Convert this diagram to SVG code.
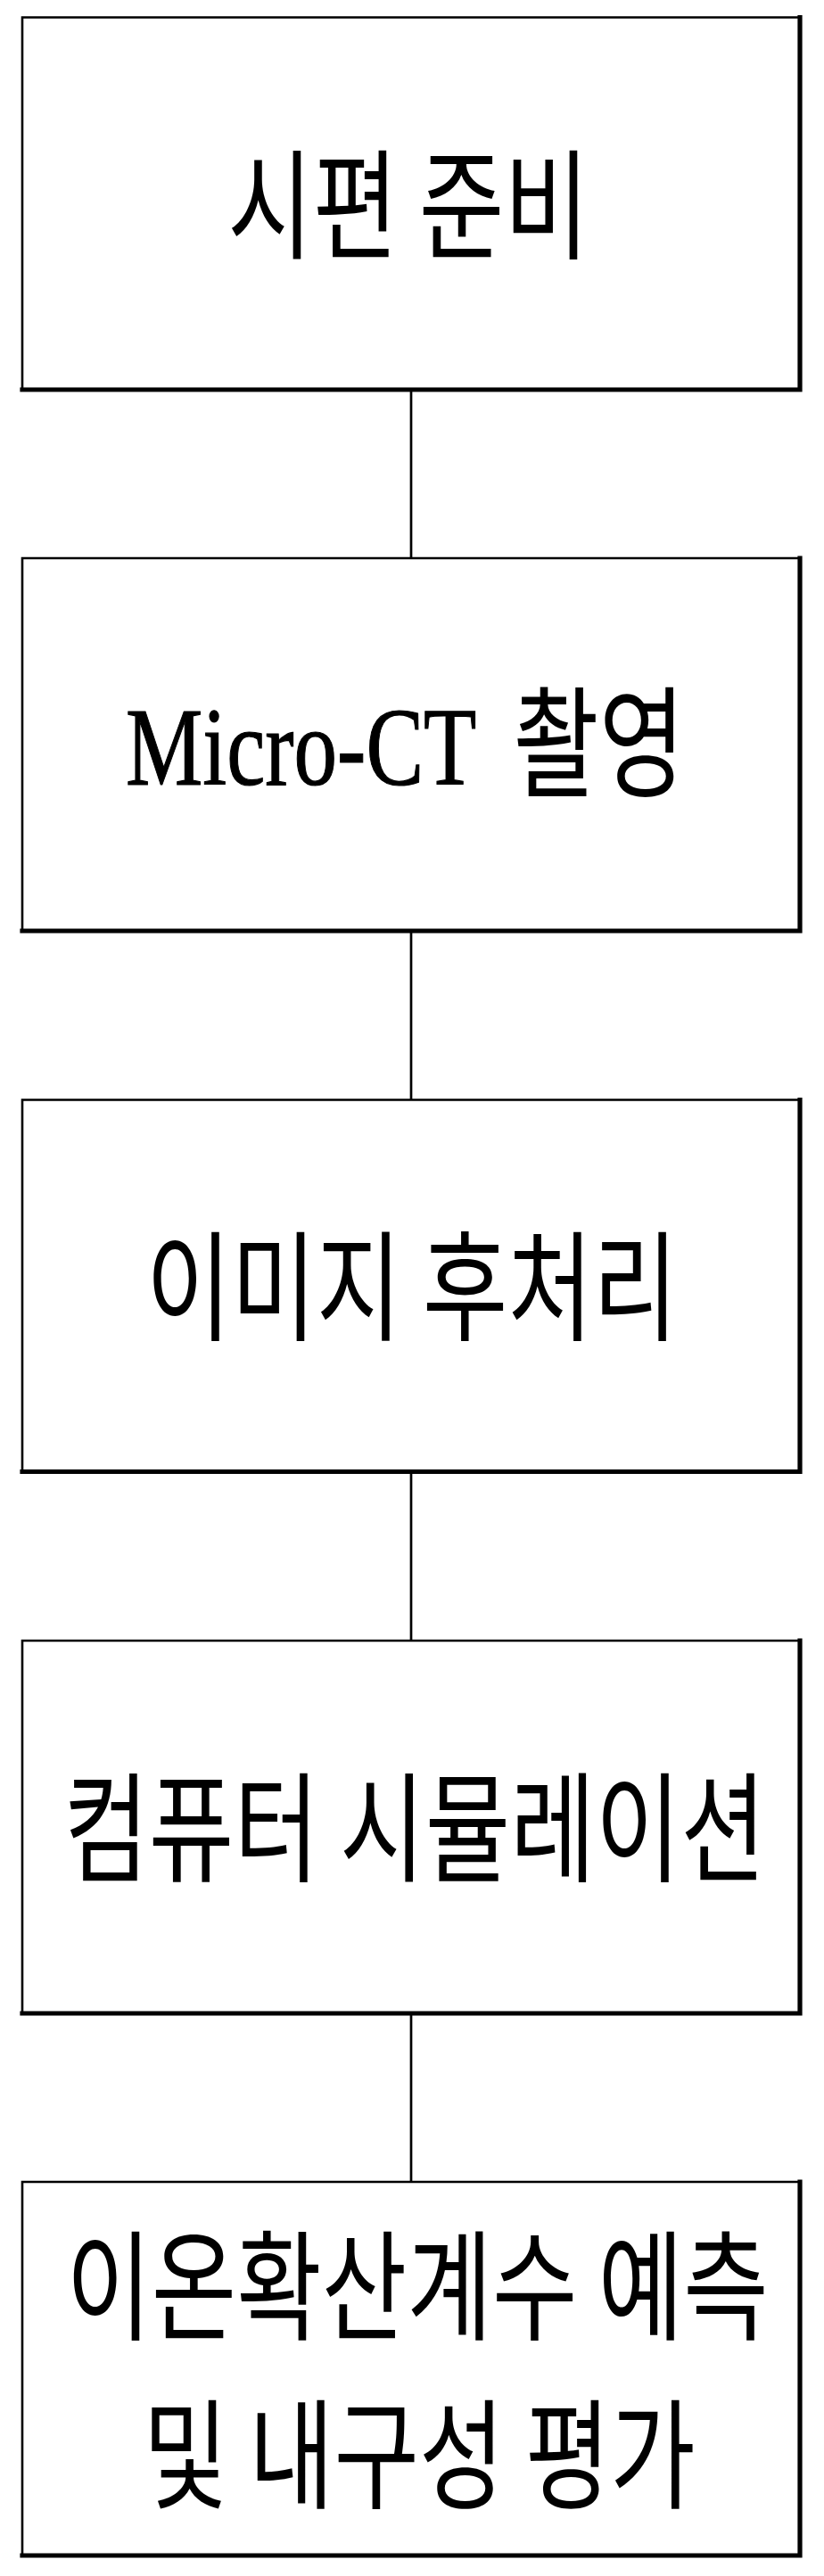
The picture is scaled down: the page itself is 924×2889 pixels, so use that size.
<svg xmlns="http://www.w3.org/2000/svg" width="924" height="2889" viewBox="0 0 924 2889">
<style>
.thin{fill:none;stroke:#000;stroke-width:2.6;stroke-linecap:square}
.thick{fill:none;stroke:#000;stroke-width:5.2;stroke-linecap:square}
.conn{fill:none;stroke:#000;stroke-width:2.7}
.ko{font-family:"Noto Sans CJK KR","Noto Sans CJK SC",sans-serif;font-size:134px;fill:#000;text-anchor:middle}
.lat{font-family:"Liberation Serif","Noto Sans CJK KR",serif;font-size:126px;fill:#000;stroke:#000;stroke-width:1.2}
</style>
<rect width="924" height="2889" fill="#fff"/>
<g id="connectors">
<line class="conn" x1="461" y1="437" x2="461" y2="626"/>
<line class="conn" x1="461" y1="1044" x2="461" y2="1233.5"/>
<line class="conn" x1="461" y1="1650.5" x2="461" y2="1840"/>
<line class="conn" x1="461" y1="2258" x2="461" y2="2447"/>
</g>
<g id="node1">
<path class="thin" d="M25,437 V19.5 H897"/>
<path class="thick" d="M897,19.5 V437 H25"/>
<text class="ko" transform="translate(458,280) scale(0.775,1)">시편 준비</text>
</g>
<g id="node2">
<path class="thin" d="M25,1044 V626 H897"/>
<path class="thick" d="M897,626 V1044 H25"/>
<text class="lat" transform="translate(141,880) scale(0.77,1)">Micro-CT <tspan dx="24" dy="4" font-family="Noto Sans CJK KR, sans-serif" font-size="136" stroke-width="0">촬영</tspan></text>
</g>
<g id="node3">
<path class="thin" d="M25,1650.5 V1233.5 H897"/>
<path class="thick" d="M897,1233.5 V1650.5 H25"/>
<text class="ko" transform="translate(462,1493) scale(0.775,1)">이미지 후처리</text>
</g>
<g id="node4">
<path class="thin" d="M25,2258 V1840 H897"/>
<path class="thick" d="M897,1840 V2258 H25"/>
<text class="ko" transform="translate(465,2100) scale(0.775,1)">컴퓨터 시뮬레이션</text>
</g>
<g id="node5">
<path class="thin" d="M25,2866 V2447 H897"/>
<path class="thick" d="M897,2447 V2866 H25"/>
<text class="ko" transform="translate(468,2614) scale(0.775,1)">이온확산계수 예측</text>
<text class="ko" transform="translate(470,2803) scale(0.775,1)">및 내구성 평가</text>
</g>
</svg>
